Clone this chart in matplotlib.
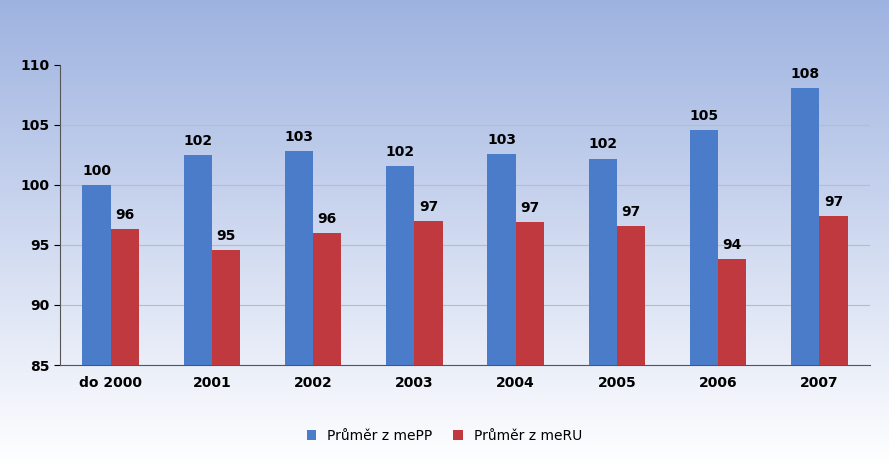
import matplotlib
matplotlib.use("Agg")
import matplotlib.pyplot as plt
import numpy as np

categories = ["do 2000", "2001", "2002", "2003", "2004", "2005", "2006", "2007"]
mepp = [100.0, 102.5, 102.8, 101.6, 102.6, 102.2, 104.6, 108.1]
meru = [96.3, 94.6, 96.0, 97.0, 96.9, 96.6, 93.8, 97.4]
series_names = ["Průměr z mePP", "Průměr z meRU"]

fig = plt.figure(figsize=(8.89, 4.65), dpi=100)
bg = fig.add_axes([0, 0, 1, 1], zorder=-10)
grad = np.linspace(0, 1, 256).reshape(-1, 1)
top = np.array([0.62, 0.70, 0.88]); bot = np.array([1.0, 1.0, 1.0])
img = top[None, None, :] * (1 - grad[:, :, None]) + bot[None, None, :] * grad[:, :, None]
img = np.clip(img, 0, 1)
bg.imshow(img, aspect="auto", extent=[0, 1, 0, 1])
bg.axis("off")

ax = fig.add_axes([60/889, 100/465, 810/889, 300/465])
ax.patch.set_alpha(0)
x = np.arange(len(categories))
w = 0.28
b1 = ax.bar(x - w/2, mepp, w, color="#4a7cc9", label=series_names[0], zorder=3)
b2 = ax.bar(x + w/2, meru, w, color="#c0393f", label=series_names[1], zorder=3)
for rect, v in zip(b1, mepp):
    ax.text(rect.get_x() + w/2, v + 0.6, f"{round(v):d}", ha="center", va="bottom", fontsize=10, fontweight="bold")
for rect, v in zip(b2, meru):
    ax.text(rect.get_x() + w/2, v + 0.6, f"{round(v):d}", ha="center", va="bottom", fontsize=10, fontweight="bold")

ax.set_ylim(85, 110)
ax.set_xlim(-0.5, len(categories) - 0.5)
ax.set_yticks(range(85, 111, 5))
ax.yaxis.grid(True, color="#b8bcc8", linewidth=0.8, zorder=0)
ax.set_xticks(x)
ax.set_xticklabels(categories, fontweight="bold", fontsize=10)
ax.tick_params(axis="y", labelsize=10, length=4)
for lab in ax.get_yticklabels():
    lab.set_fontweight("bold")
ax.tick_params(axis="x", length=0, pad=8)
for s in ["top", "right"]:
    ax.spines[s].set_visible(False)
ax.spines["left"].set_color("#555555")
ax.spines["bottom"].set_color("#555555")
fig.legend(loc="lower center", bbox_to_anchor=(0.5, 0.02), ncol=2, frameon=False,
           fontsize=10, handlelength=0.7, handleheight=0.7, columnspacing=1.5)
fig.savefig("out.png", dpi=100)
